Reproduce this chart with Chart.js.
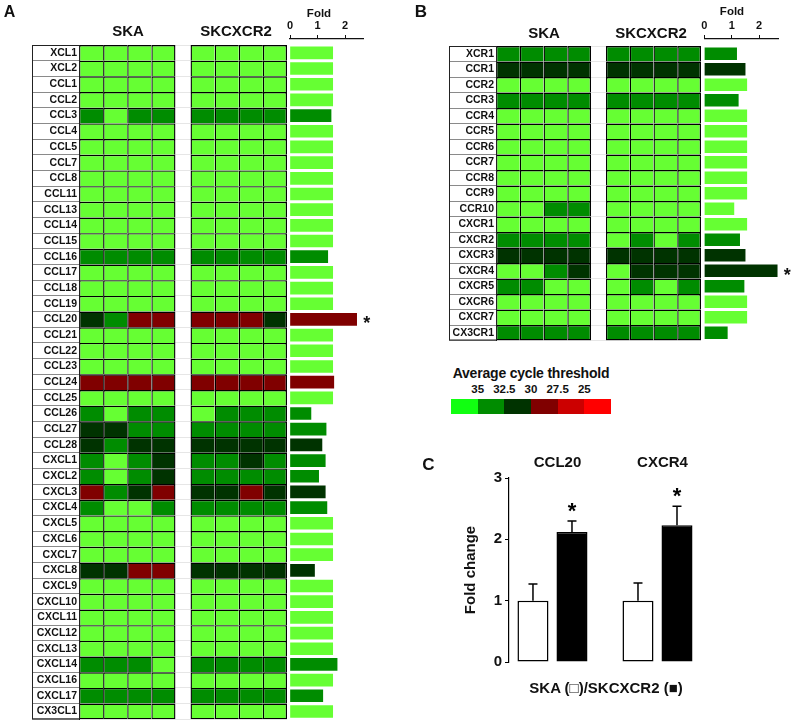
<!DOCTYPE html>
<html>
<head>
<meta charset="utf-8">
<script src="https://cdn.jsdelivr.net/npm/chart.js@4.4.1/dist/chart.umd.min.js"></script>
<style>
  body { margin: 0; background: #fff; font-family: Arial, "Liberation Sans", sans-serif; }
  #wrap { position: relative; width: 793px; height: 722px; overflow: hidden; }
  canvas { position: absolute; }
  .t { position: absolute; font-weight: bold; color: #111; white-space: nowrap; line-height: 1; transform: translate(-50%, -50%); }
  #ctBar { position: absolute; left: 451px; top: 399px; width: 160px; height: 15px; display: flex; }
  #ctBar div { flex: 1; }
</style>
</head>
<body>
<div id="wrap">
  <canvas id="heatA" width="290" height="722" style="left:0;top:0"></canvas>
  <canvas id="foldA" width="110" height="722" style="left:280px;top:0"></canvas>
  <canvas id="heatB" width="315" height="345" style="left:390px;top:0"></canvas>
  <canvas id="foldB" width="99" height="345" style="left:694px;top:0"></canvas>
  <canvas id="barC" width="403" height="245" style="left:390px;top:440px"></canvas>

  <div class="t" style="left:9.5px;top:11.5px;font-size:16px">A</div>
  <div class="t" style="left:128px;top:30px;font-size:15px">SKA</div>
  <div class="t" style="left:236px;top:30px;font-size:15px">SKCXCR2</div>
  <div class="t" style="left:319px;top:14px;font-size:11.5px">Fold</div>

  <div class="t" style="left:421px;top:11px;font-size:17px">B</div>
  <div class="t" style="left:544px;top:32px;font-size:15px">SKA</div>
  <div class="t" style="left:651px;top:32px;font-size:15px">SKCXCR2</div>
  <div class="t" style="left:732px;top:11.5px;font-size:11.5px">Fold</div>

  <div class="t" style="left:531px;top:373px;font-size:14px;letter-spacing:-0.2px">Average cycle threshold</div>
  <div id="ctBar"></div>
  <div id="ctTicks"></div>

  <div class="t" style="left:428.5px;top:464px;font-size:17px">C</div>
  <div class="t" style="left:606px;top:687px;font-size:15px">SKA (□)/SKCXCR2 (■)</div>
</div>

<script>
// colour for each cycle-threshold class (35 .. 25)
const ctColors = ['#66ff33', '#008c00', '#003300', '#800000', '#cc0000', '#ff0000'];
const legendColors = ['#11ff11', '#008c00', '#003300', '#800000', '#cc0000', '#ff0000'];
const ctTicks = ['35', '32.5', '30', '27.5', '25'];

const replicates = 4;
const groupGap = 0.625;

// Panel A: chemokines
const genesA = ['XCL1', 'XCL2', 'CCL1', 'CCL2', 'CCL3', 'CCL4', 'CCL5', 'CCL7', 'CCL8', 'CCL11',
  'CCL13', 'CCL14', 'CCL15', 'CCL16', 'CCL17', 'CCL18', 'CCL19', 'CCL20', 'CCL21', 'CCL22',
  'CCL23', 'CCL24', 'CCL25', 'CCL26', 'CCL27', 'CCL28', 'CXCL1', 'CXCL2', 'CXCL3', 'CXCL4',
  'CXCL5', 'CXCL6', 'CXCL7', 'CXCL8', 'CXCL9', 'CXCL10', 'CXCL11', 'CXCL12', 'CXCL13', 'CXCL14',
  'CXCL16', 'CXCL17', 'CX3CL1'];
const skaA = [
  [0,0,0,0], [0,0,0,0], [0,0,0,0], [0,0,0,0], [1,0,1,1], [0,0,0,0], [0,0,0,0], [0,0,0,0], [0,0,0,0], [0,0,0,0],
  [0,0,0,0], [0,0,0,0], [0,0,0,0], [1,1,1,1], [0,0,0,0], [0,0,0,0], [0,0,0,0], [2,1,3,3], [0,0,0,0], [0,0,0,0],
  [0,0,0,0], [3,3,3,3], [0,0,0,0], [1,0,1,1], [2,2,1,1], [2,1,2,2], [1,0,1,2], [1,0,1,2], [3,1,2,3], [1,0,0,1],
  [0,0,0,0], [0,0,0,0], [0,0,0,0], [2,2,3,3], [0,0,0,0], [0,0,0,0], [0,0,0,0], [0,0,0,0], [0,0,0,0], [1,1,1,0],
  [0,0,0,0], [1,1,1,1], [0,0,0,0]
];
const skcA = [
  [0,0,0,0], [0,0,0,0], [0,0,0,0], [0,0,0,0], [1,1,1,1], [0,0,0,0], [0,0,0,0], [0,0,0,0], [0,0,0,0], [0,0,0,0],
  [0,0,0,0], [0,0,0,0], [0,0,0,0], [1,1,1,1], [0,0,0,0], [0,0,0,0], [0,0,0,0], [3,3,3,2], [0,0,0,0], [0,0,0,0],
  [0,0,0,0], [3,3,3,3], [0,0,0,0], [0,1,1,1], [1,1,1,1], [2,2,2,2], [1,1,2,1], [1,1,1,1], [2,2,3,2], [1,1,1,1],
  [0,0,0,0], [0,0,0,0], [0,0,0,0], [2,2,2,2], [0,0,0,0], [0,0,0,0], [0,0,0,0], [0,0,0,0], [0,0,0,0], [1,1,1,1],
  [0,0,0,0], [1,1,1,1], [0,0,0,0]
];
const foldA = [1.55, 1.55, 1.55, 1.55, 1.49, 1.55, 1.55, 1.55, 1.55, 1.55,
  1.55, 1.55, 1.55, 1.37, 1.55, 1.55, 1.55, 2.42, 1.55, 1.55,
  1.55, 1.59, 1.55, 0.76, 1.31, 1.16, 1.28, 1.04, 1.28, 1.34,
  1.55, 1.55, 1.55, 0.89, 1.55, 1.55, 1.55, 1.55, 1.55, 1.71,
  1.55, 1.19, 1.55];
const foldLevelA = [0, 0, 0, 0, 1, 0, 0, 0, 0, 0,
  0, 0, 0, 1, 0, 0, 0, 3, 0, 0,
  0, 3, 0, 1, 1, 2, 1, 1, 2, 1,
  0, 0, 0, 2, 0, 0, 0, 0, 0, 1,
  0, 1, 0];
const sigA = ['CCL20'];

// Panel B: receptors
const genesB = ['XCR1', 'CCR1', 'CCR2', 'CCR3', 'CCR4', 'CCR5', 'CCR6', 'CCR7', 'CCR8', 'CCR9',
  'CCR10', 'CXCR1', 'CXCR2', 'CXCR3', 'CXCR4', 'CXCR5', 'CXCR6', 'CXCR7', 'CX3CR1'];
const skaB = [
  [1,1,1,1], [2,2,2,2], [0,0,0,0], [1,1,1,1], [0,0,0,0], [0,0,0,0], [0,0,0,0], [0,0,0,0], [0,0,0,0], [0,0,0,0],
  [0,0,1,1], [0,0,0,0], [1,1,1,1], [2,2,2,2], [0,0,1,2], [1,1,0,0], [0,0,0,0], [0,0,0,0], [1,1,1,1]
];
const skcB = [
  [1,1,1,1], [2,2,2,2], [0,0,0,0], [1,1,1,1], [0,0,0,0], [0,0,0,0], [0,0,0,0], [0,0,0,0], [0,0,0,0], [0,0,0,0],
  [0,0,0,0], [0,0,0,0], [0,1,0,1], [2,2,2,2], [0,2,2,2], [0,1,0,1], [0,0,0,0], [0,0,0,0], [1,1,1,1]
];
const foldB = [1.18, 1.49, 1.55, 1.24, 1.55, 1.55, 1.55, 1.55, 1.55, 1.55,
  1.08, 1.55, 1.29, 1.49, 2.66, 1.45, 1.55, 1.55, 0.84];
const foldLevelB = [1, 2, 0, 1, 0, 0, 0, 0, 0, 0,
  0, 0, 1, 2, 2, 1, 0, 0, 1];
const sigB = ['CXCR4'];

// Panel C: qPCR validation
const groupsC = ['CCL20', 'CXCR4'];
const meanSKA = [1.0, 1.0];
const errSKA = [0.27, 0.29];
const meanSKC = [2.12, 2.23];
const errSKC = [0.18, 0.31];
const sigSKC = [true, true];

Chart.defaults.font.family = 'Arial, "Liberation Sans", sans-serif';
Chart.defaults.color = '#111';
Chart.defaults.animation = false;
Chart.defaults.responsive = false;
Chart.defaults.plugins.legend.display = false;
Chart.defaults.plugins.tooltip.enabled = false;

// outline round the gene name column
const labelBox = {
  id: 'labelBox',
  afterDraw(chart, args, opts) {
    const { ctx, chartArea: a } = chart;
    ctx.save();
    ctx.strokeStyle = '#222';
    ctx.lineWidth = 1;
    ctx.strokeRect(a.left - opts.width + 0.5, a.top + 0.5, opts.width, a.bottom - a.top - 1);
    ctx.restore();
  }
};

const stars = {
  id: 'stars',
  afterDatasetsDraw(chart) {
    const { ctx } = chart;
    const ds = chart.data.datasets[0];
    const meta = chart.getDatasetMeta(0);
    ctx.save();
    ctx.font = 'bold 18px Arial';
    ctx.fillStyle = '#111';
    ctx.textAlign = 'center';
    ds.marked.forEach((m, i) => {
      if (!m) return;
      const el = meta.data[i];
      ctx.fillText('*', el.x + 10, el.y + 10);
    });
    ctx.restore();
  }
};

function drawHeat(id, genes, groups, box) {
  const datasets = [];
  groups.forEach((rows, g) => {
    for (let c = 0; c < replicates; c++) {
      const x0 = g * (replicates + groupGap) + c;
      datasets.push({
        data: genes.map(() => [x0, x0 + 1]),
        backgroundColor: rows.map(r => ctColors[r[c]]),
        borderColor: '#000',
        borderWidth: ctx => ({
          top: 1.4, left: 1.4,
          bottom: ctx.dataIndex === genes.length - 1 ? 1.4 : 0,
          right: c === replicates - 1 ? 1.4 : 0
        }),
        borderSkipped: false,
        grouped: false,
        categoryPercentage: 1,
        barPercentage: 1,
        inflateAmount: 0
      });
    }
  });

  new Chart(document.getElementById(id), {
    type: 'bar',
    data: { labels: genes, datasets },
    options: {
      indexAxis: 'y',
      layout: { padding: box.pad },
      scales: {
        x: { type: 'linear', display: false, min: 0, max: groups.length * replicates + groupGap },
        y: {
          type: 'category',
          offset: true,
          grid: { offset: true, color: '#e6e6e6', tickColor: '#8a8a8a', drawTicks: true, tickLength: box.labelW },
          border: { color: '#111' },
          ticks: { autoSkip: false, padding: 2 - box.labelW, color: '#111', font: { size: 10.5, weight: 'bold' } },
          afterFit: s => { s.width = box.labelW; }
        }
      },
      plugins: { labelBox: { width: box.labelW } }
    },
    plugins: [labelBox]
  });
}

function drawFold(id, genes, fold, levels, sig, box) {
  new Chart(document.getElementById(id), {
    type: 'bar',
    data: {
      datasets: [{
        data: fold.map((v, i) => ({ x: v, y: i })),
        backgroundColor: levels.map(l => ctColors[l]),
        borderWidth: 0,
        barThickness: 12,
        marked: genes.map(g => sig.includes(g))
      }]
    },
    options: {
      indexAxis: 'y',
      layout: { padding: box.pad },
      scales: {
        x: {
          type: 'linear', position: 'top', min: 0, max: box.maxX,
          ticks: { stepSize: 1, includeBounds: false, padding: 2, color: '#111', font: { size: 11, weight: 'bold' } },
          grid: { drawOnChartArea: false, drawTicks: true, tickLength: 4, tickColor: '#111' },
          border: { color: '#111', width: 1.2 },
          afterFit: s => { s.height = 39; }
        },
        y: { type: 'linear', display: false, offset: false, reverse: true, min: box.minY, max: genes.length - 0.5 }
      }
    },
    plugins: [stars]
  });
}

drawHeat('heatA', genesA, [skaA, skcA], { labelW: 47, pad: { left: 32, top: 45, right: 3, bottom: 2.7 } });
drawFold('foldA', genesA, foldA, foldLevelA, sigA, { maxX: 2.65, minY: -0.883, pad: { left: 10, right: 27, top: 0, bottom: 2.7 } });
drawHeat('heatB', genesB, [skaB, skcB], { labelW: 47, pad: { left: 59, top: 46, right: 4, bottom: 4.5 } });
drawFold('foldB', genesB, foldB, foldLevelB, sigB, { maxX: 2.7, minY: -0.952, pad: { left: 10.3, right: 14.7, top: 0, bottom: 4.5 } });

// colour key
const bar = document.getElementById('ctBar');
legendColors.forEach(c => {
  const d = document.createElement('div');
  d.style.background = c;
  bar.appendChild(d);
});
const tickHost = document.getElementById('ctTicks');
ctTicks.forEach((t, i) => {
  const d = document.createElement('div');
  d.className = 't';
  d.style.fontSize = '11.5px';
  d.style.left = (451 + (i + 1) * 160 / legendColors.length) + 'px';
  d.style.top = '390px';
  d.innerText = t;
  tickHost.appendChild(d);
});

// error bars + significance marks for panel C
const errorBars = {
  id: 'errorBars',
  afterDatasetsDraw(chart) {
    const { ctx, scales: { y } } = chart;
    ctx.save();
    ctx.strokeStyle = '#000';
    ctx.fillStyle = '#000';
    ctx.lineWidth = 1.5;
    ctx.font = 'bold 22px Arial';
    ctx.textAlign = 'center';
    chart.data.datasets.forEach((ds, d) => {
      chart.getDatasetMeta(d).data.forEach((el, i) => {
        const top = y.getPixelForValue(ds.data[i].y + ds.err[i]);
        ctx.beginPath();
        ctx.moveTo(el.x, el.y);
        ctx.lineTo(el.x, top);
        ctx.moveTo(el.x - 4.5, top);
        ctx.lineTo(el.x + 4.5, top);
        ctx.stroke();
        if (ds.sig && ds.sig[i]) ctx.fillText('*', el.x, top - 3);
      });
    });
    ctx.restore();
  }
};

new Chart(document.getElementById('barC'), {
  type: 'bar',
  data: {
    datasets: [
      {
        label: 'SKA',
        data: groupsC.map((g, i) => ({ x: i, y: meanSKA[i] })),
        err: errSKA,
        backgroundColor: '#fff',
        borderColor: '#000',
        borderWidth: 1.5,
        borderSkipped: false
      },
      {
        label: 'SKCXCR2',
        data: groupsC.map((g, i) => ({ x: i, y: meanSKC[i] })),
        err: errSKC,
        sig: sigSKC,
        backgroundColor: '#000',
        borderColor: '#000',
        borderWidth: 1.5,
        borderSkipped: false
      }
    ]
  },
  options: {
    categoryPercentage: 0.743,
    barPercentage: 0.795,
    layout: { padding: { left: 68, right: 83, top: 0, bottom: 23 } },
    scales: {
      x: {
        type: 'linear', position: 'top', offset: false, min: -0.414, max: 1.5,
        afterBuildTicks: s => { s.ticks = groupsC.map((g, i) => ({ value: i })); },
        ticks: { callback: v => groupsC[v], padding: 6, labelOffset: 5, color: '#111', font: { size: 15, weight: 'bold' } },
        grid: { display: false, drawTicks: false },
        border: { display: false },
        afterFit: s => { s.height = 38; }
      },
      y: {
        min: 0, max: 3,
        ticks: { stepSize: 1, padding: 3, color: '#111', font: { size: 15, weight: 'bold' } },
        grid: { drawOnChartArea: false, drawTicks: true, tickLength: 4, tickColor: '#000' },
        border: { color: '#000', width: 1.2 },
        title: { display: true, text: 'Fold change', color: '#111', font: { size: 15, weight: 'bold' }, padding: { top: 4, bottom: 4 } },
        afterFit: s => { s.width = 51; }
      }
    }
  },
  plugins: [errorBars]
});
</script>
</body>
</html>
